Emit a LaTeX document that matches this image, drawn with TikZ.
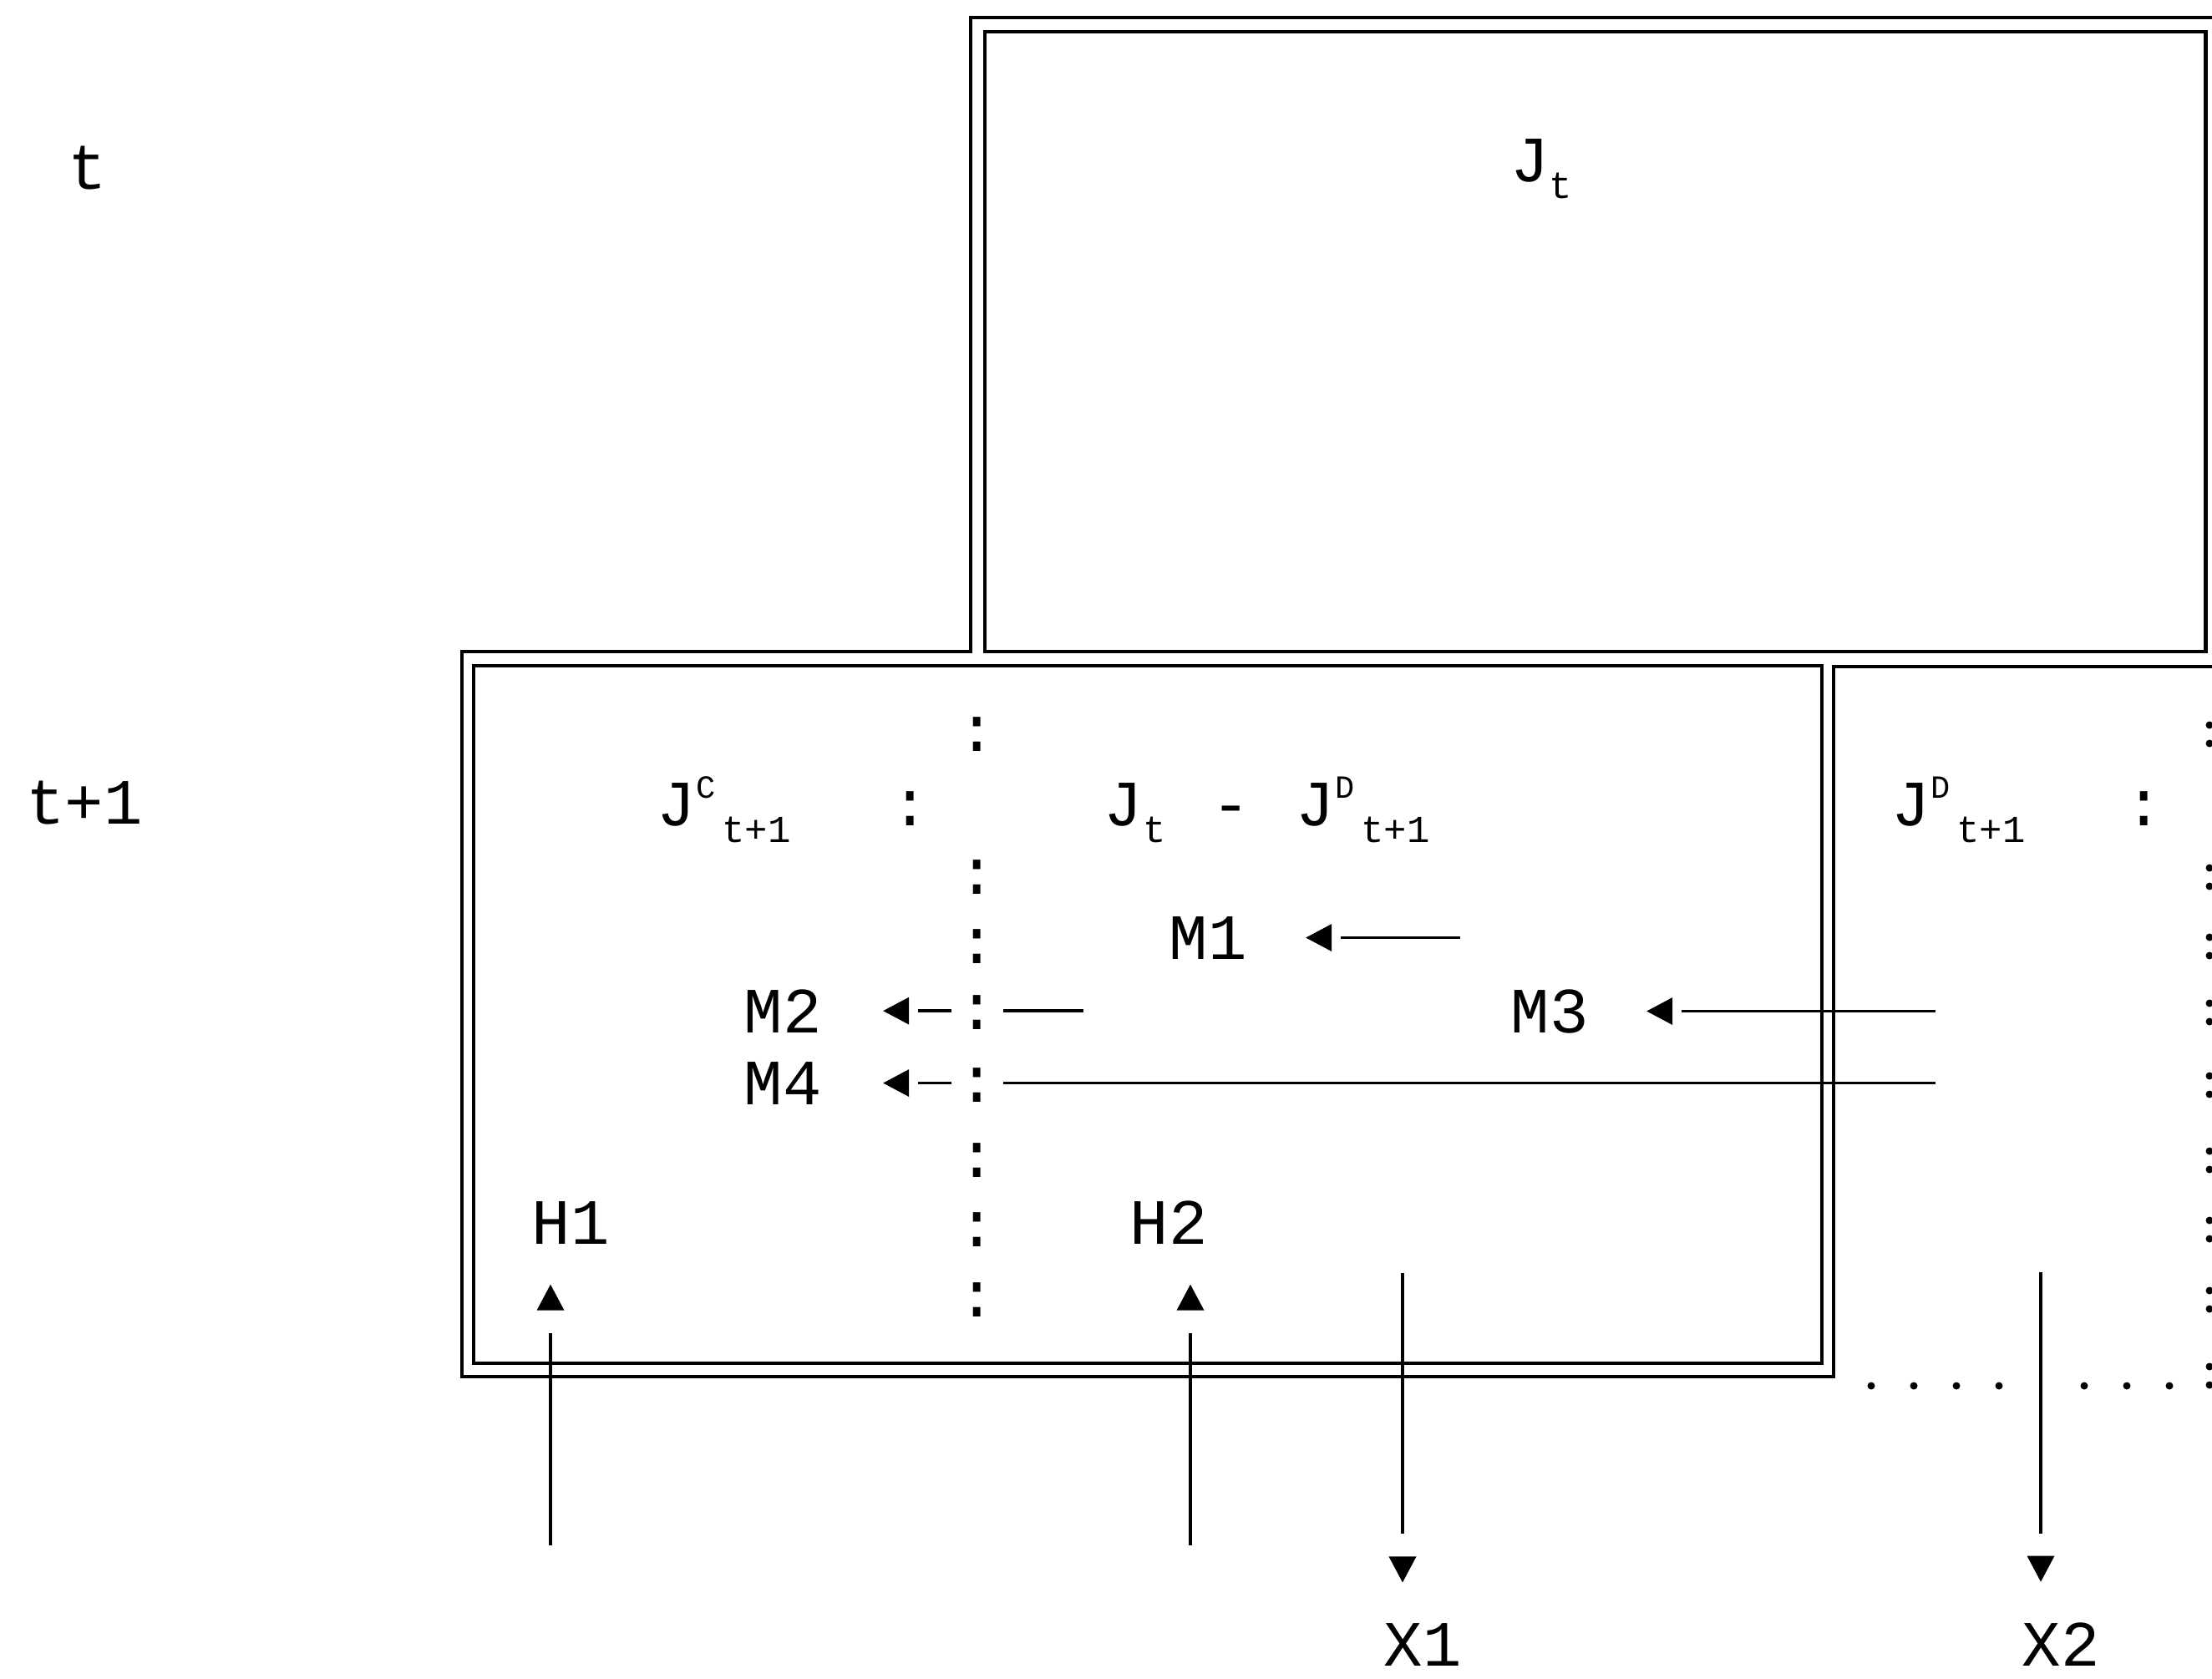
\documentclass[tikz,border=0pt]{standalone}
\usepackage{fontspec}
\newfontfamily\tyfont{Liberation Mono}
\usetikzlibrary{calc}

\newcommand\typ{\tyfont\fontsize{22}{26}\selectfont}
\newcommand\hi[1]{\raisebox{0.33cm}{\fontsize{11}{11}\selectfont #1}}
\newcommand\lo[1]{\raisebox{-0.20cm}{\fontsize{13}{13}\selectfont #1}}
\newcommand\Jsup[1]{J\hi{#1}\hspace{0.08cm}\lo{t+1}}
\newcommand\arrowhd[2]{\fill[shift={(#1)}, rotate=#2] (0,0) -- (-0.31,0.165) -- (-0.31,-0.165) -- cycle;}

\tikzset{
  lbl/.style={font=\typ, inner sep=0pt},
  dbox/.style={line width=1.4pt, line join=miter},
  flow/.style={line width=1.1pt},
  flowh/.style={flow, shorten >=0.42cm},
  flowv/.style={flow, shorten >=0.58cm},
  colmark/.style={font=\typ, inner xsep=0.08cm, inner ysep=0.05cm, fill=white},
}

\begin{document}
\begin{tikzpicture}
\useasboundingbox (0,0) rectangle (26.48,-20.09);

% frames
\draw[dbox] (26.48,-0.21) -- (11.62,-0.21) -- (11.62,-7.80) -- (5.53,-7.80) -- (5.53,-16.48)
    -- (21.95,-16.48) -- (21.95,-7.98) -- (26.48,-7.98);
\draw[dbox] (11.79,-0.38) rectangle (26.40,-7.80);
\draw[dbox] (5.67,-7.97) rectangle (21.81,-16.32);

% labels
\node[lbl, anchor=base] (tnow) at (1.05,-2.26) {t};
\node[lbl, anchor=base] (tnext) at (1.01,-9.86) {t+1};
\node[lbl, anchor=base] (Jt) at (18.45,-2.17) {J\lo{t}};

\node[lbl, anchor=base west] (JC) at (7.86,-9.88) {\Jsup{C}};
\node[lbl, anchor=base] (JCsep) at (10.90,-9.88) {:};
\node[lbl, anchor=base west] (JtJD) at (13.21,-9.88) {J\lo{t}\hspace{0.55cm}-\hspace{0.55cm}\Jsup{D}};
\node[lbl, anchor=base west] (JD) at (22.64,-9.88) {\Jsup{D}};
\node[lbl, anchor=base] (JDsep) at (25.67,-9.88) {:};

\node[lbl, anchor=base west] (M1) at (13.99,-11.48) {M1};
\node[lbl, anchor=base west] (M2) at (8.90,-12.36) {M2};
\node[lbl, anchor=base west] (M3) at (18.08,-12.36) {M3};
\node[lbl, anchor=base west] (M4) at (8.90,-13.22) {M4};
\node[lbl, anchor=base west] (H1) at (6.36,-14.89) {H1};
\node[lbl, anchor=base west] (H2) at (13.52,-14.89) {H2};
\node[lbl, anchor=base west] (X1) at (16.56,-19.94) {X1};
\node[lbl, anchor=base west] (X2) at (24.20,-19.94) {X2};

% arrow ends
\coordinate (m1tip) at ($(M1.east)+(0.70,0)$);
\coordinate (m1tail) at ($(M1.east)+(2.55,0)$);
\coordinate (m2tip) at ($(M2.east)+(0.73,0)$);
\coordinate (m2tail) at ($(M2.east)+(3.13,0)$);
\coordinate (m3tip) at ($(M3.east)+(0.69,0)$);
\coordinate (m3tail) at ($(M3.east)+(4.15,0)$);
\coordinate (m4tip) at ($(M4.east)+(0.73,0)$);
\coordinate (m4tail) at ($(M4.east)+(13.33,0)$);
\coordinate (h1tip) at ($(H1.south west)+(0.23,-0.48)$);
\coordinate (h1tail) at ($(H1.south west)+(0.23,-3.60)$);
\coordinate (h2tip) at ($(H2.south west)+(0.73,-0.48)$);
\coordinate (h2tail) at ($(H2.south west)+(0.73,-3.60)$);
\coordinate (x1tip) at ($(X1.north west)+(0.23,0.48)$);
\coordinate (x1tail) at ($(X1.north west)+(0.23,4.18)$);
\coordinate (x2tip) at ($(X2.north west)+(0.23,0.48)$);
\coordinate (x2tail) at ($(X2.north west)+(0.23,4.19)$);

\foreach \a in {m1,m2,m3,m4} {
  \draw[flowh] (\a tail) -- (\a tip);
  \arrowhd{\a tip}{180}
}
\foreach \a in {h1,h2} {
  \draw[flowv] (\a tail) -- (\a tip);
  \arrowhd{\a tip}{90}
}
\foreach \a in {x1,x2} {
  \draw[flowv] (\a tail) -- (\a tip);
  \arrowhd{\a tip}{-90}
}

% colon column
\foreach \cy [count=\i] in {8.79,10.50,11.33,12.12,12.99,13.89,14.72,15.56}
  \node[colmark] (cl\i) at (11.70,-\cy) {:};

% dotted edges of the right box
\foreach \cy in {8.79,10.50,11.33,12.12,12.99,13.89,14.72,15.56,16.47} {
  \fill (26.45,-\cy+0.11) circle (0.045);
  \fill (26.45,-\cy-0.11) circle (0.045);
}
\foreach \k in {0,1,2,3,5,6,7}
  \fill ({22.40+0.51*\k},-16.59) circle (0.045);
\end{tikzpicture}
\end{document}
